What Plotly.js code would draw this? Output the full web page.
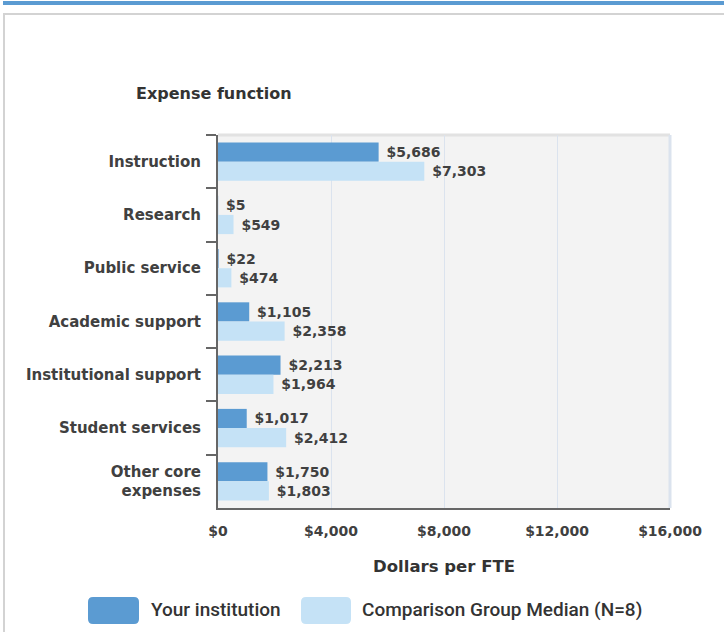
<!DOCTYPE html>
<html>
<head>
<meta charset="utf-8">
<script src="https://cdn.plot.ly/plotly-3.0.1.min.js"></script>
<style>
  html, body { margin: 0; padding: 0; background: #ffffff; }
  #wrap { position: relative; width: 724px; height: 632px; overflow: hidden; }
  #topbar { position: absolute; left: 3px; right: 0; top: 1px; height: 4px; background: #5b9bd2; }
  #frame { position: absolute; left: 3px; right: -10px; top: 13px; bottom: -10px;
           border-top: 2px solid #d3d3d3; border-left: 2px solid #d3d3d3; }
  #chart { position: absolute; left: 0; top: 0; width: 724px; height: 632px; }
</style>
</head>
<body>
<div id="wrap">
  <div id="topbar"></div>
  <div id="frame"></div>
  <div id="chart"></div>
</div>
<script>
// ---- data ----
const categories = [
  "Instruction",
  "Research",
  "Public service",
  "Academic support",
  "Institutional support",
  "Student services",
  "Other core<br>expenses"
];
const yourInstitution = [5686, 5, 22, 1105, 2213, 1017, 1750];
const comparisonMedian = [7303, 549, 474, 2358, 1964, 2412, 1803];
const seriesNames = ["Your institution", "Comparison Group Median (N=8)"];
const xTickValues = [0, 4000, 8000, 12000, 16000];
const xTickLabels = ["$0", "$4,000", "$8,000", "$12,000", "$16,000"];

// ---- layout helpers (plot area in pixels) ----
const W = 724, H = 632;
const L = 218, R = 670, T = 135, B = 508;
const px = x => (x - L) / (R - L);
const py = y => (B - y) / (B - T);
function rrect(x0, y0, x1, y1, r) {
  const a = px(x0), b = px(x1), c = py(y0), d = py(y1);
  const rx = r / (R - L), ry = r / (B - T);
  return "M" + (a + rx) + "," + c +
    " L" + (b - rx) + "," + c +
    " Q" + b + "," + c + " " + b + "," + (c - ry) +
    " L" + b + "," + (d + ry) +
    " Q" + b + "," + d + " " + (b - rx) + "," + d +
    " L" + (a + rx) + "," + d +
    " Q" + a + "," + d + " " + a + "," + (d + ry) +
    " L" + a + "," + (c - ry) +
    " Q" + a + "," + c + " " + (a + rx) + "," + c + " Z";
}

const darkBlue = "#5b9bd2";
const lightBlue = "#c5e2f6";
const textColor = "#404040";
const axisFont = "DejaVu Sans, Verdana, sans-serif";

const traces = [
  {
    type: "bar", orientation: "h",
    y: categories, x: yourInstitution,
    name: seriesNames[0],
    marker: { color: darkBlue },
    texttemplate: "\u00a0$%{x:,}",
    textposition: "outside",
    cliponaxis: false,
    textfont: { family: axisFont, size: 14, color: textColor, weight: "bold" },
    hoverinfo: "skip"
  },
  {
    type: "bar", orientation: "h",
    y: categories, x: comparisonMedian,
    name: seriesNames[1],
    marker: { color: lightBlue },
    texttemplate: "\u00a0$%{x:,}",
    textposition: "outside",
    cliponaxis: false,
    textfont: { family: axisFont, size: 14, color: textColor, weight: "bold" },
    hoverinfo: "skip"
  }
];

const layout = {
  width: W, height: H,
  margin: { l: L, r: W - R, t: T, b: H - B, pad: 0 },
  paper_bgcolor: "rgba(0,0,0,0)",
  plot_bgcolor: "#f3f3f3",
  showlegend: false,
  barmode: "group",
  bargap: 0.28,
  bargroupgap: 0,
  font: { family: axisFont, color: textColor },
  xaxis: {
    range: [0, 16000],
    tickvals: xTickValues,
    ticktext: xTickLabels,
    showgrid: true,
    gridcolor: "#dbe3ee",
    gridwidth: 1,
    zeroline: false,
    showline: true,
    linecolor: "#666666",
    linewidth: 2,
    ticks: "",
    ticklabelstandoff: 9,
    tickfont: { family: axisFont, size: 14, color: textColor, weight: "bold" },
    title: {
      text: "Dollars per FTE",
      font: { family: axisFont, size: 16.5, color: "#333333", weight: "bold" },
      standoff: 23
    },
    automargin: false,
    fixedrange: true
  },
  yaxis: {
    type: "category",
    autorange: "reversed",
    showgrid: false,
    zeroline: false,
    showline: true,
    linecolor: "#666666",
    linewidth: 2,
    ticks: "outside",
    tickson: "boundaries",
    ticklen: 10,
    tickwidth: 2,
    tickcolor: "#666666",
    ticklabelstandoff: 12,
    tickfont: { family: axisFont, size: 15, color: textColor, weight: "bold" },
    automargin: false,
    fixedrange: true
  },
  shapes: [
    { type: "line", xref: "paper", yref: "paper", x0: 0, x1: 1, y0: 1, y1: 1,
      line: { color: "#e2e2e2", width: 3 }, layer: "below" },
    { type: "line", xref: "paper", yref: "paper", x0: 1, x1: 1, y0: 0, y1: 1,
      line: { color: "#dbe3ee", width: 3 }, layer: "below" },
    { type: "path", xref: "paper", yref: "paper", path: rrect(88, 597, 139, 624, 5),
      fillcolor: darkBlue, line: { width: 0 } },
    { type: "path", xref: "paper", yref: "paper", path: rrect(301, 597, 351, 624, 5),
      fillcolor: lightBlue, line: { width: 0 } }
  ],
  annotations: [
    { text: "Expense function", xref: "paper", yref: "paper",
      x: px(134), y: py(94), xanchor: "left", yanchor: "middle", showarrow: false,
      font: { family: axisFont, size: 16, color: "#333333", weight: "bold" } },
    { text: seriesNames[0], xref: "paper", yref: "paper",
      x: px(149), y: py(609), xanchor: "left", yanchor: "middle", showarrow: false,
      font: { family: "Roboto, sans-serif", size: 19, color: "#333333", weight: 500 } },
    { text: seriesNames[1], xref: "paper", yref: "paper",
      x: px(360), y: py(609), xanchor: "left", yanchor: "middle", showarrow: false,
      font: { family: "Roboto, sans-serif", size: 19, color: "#333333", weight: 500 } }
  ]
};

Plotly.newPlot("chart", traces, layout, { displayModeBar: false, staticPlot: true });
</script>
</body>
</html>
